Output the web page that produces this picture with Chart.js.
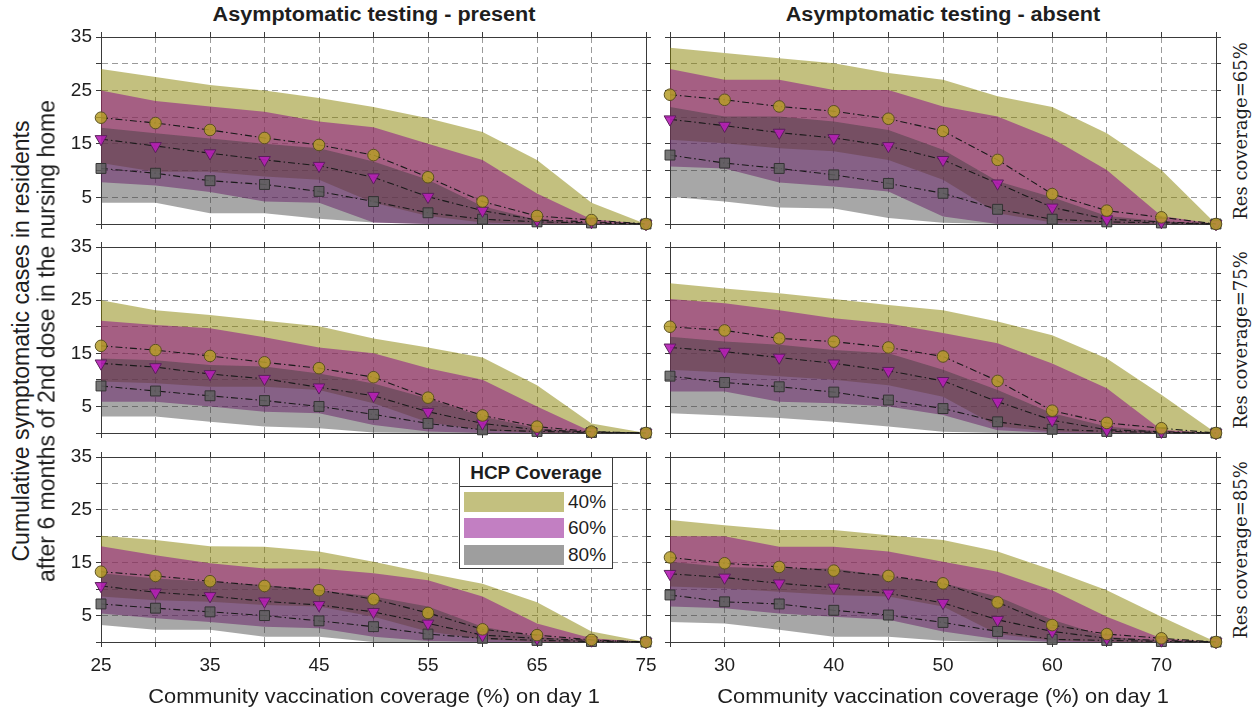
<!DOCTYPE html>
<html>
<head>
<meta charset="utf-8">
<script src="https://cdn.jsdelivr.net/npm/chart.js@4.4.1/dist/chart.umd.min.js"></script>
<style>
  body { margin: 0; background: #fff; }
  #wrap { position: relative; width: 1255px; height: 708px; overflow: hidden; background: #fff;
          font-family: "Liberation Sans", Arial, Helvetica, sans-serif; color: #1e1e1e; }
  #wrap canvas { position: absolute; }
  .txt { position: absolute; white-space: nowrap; line-height: 1; }
  #legend { position: absolute; left: 459px; top: 457px; width: 152px; height: 110px;
            border: 1px solid #3a3a3a; background: #fff; z-index: 5; }
  #legend .ttl { position: absolute; left: 0; top: 0; width: 152px; height: 28px; border-bottom: 1px solid #3a3a3a;
                 font-weight: bold; font-size: 19px; text-align: center; line-height: 30px; }
  #legend .patch { position: absolute; left: 4px; width: 100px; height: 20px; }
  #legend .lab { position: absolute; left: 108px; font-size: 19px; line-height: 20px; }
</style>
</head>
<body>
<div id="wrap"></div>
<script>
// ---------------- data ----------------
const xValues = [25, 30, 35, 40, 45, 50, 55, 60, 65, 70, 75];
const xTickLabelsLeft = [25, 35, 45, 55, 65, 75];
const xTickLabelsRight = [30, 40, 50, 60, 70];
const yTickLabels = [5, 15, 25, 35];
const hcpLevels = ['40%', '60%', '80%'];
const columnTitles = ['Asymptomatic testing - present', 'Asymptomatic testing - absent'];
const rowLabels = ['Res coverage=65%', 'Res coverage=75%', 'Res coverage=85%'];
const legendTitle = 'HCP Coverage';
const xAxisTitle = 'Community vaccination coverage (%) on day 1';
const yAxisTitle1 = 'Cumulative symptomatic cases in residents';
const yAxisTitle2 = 'after 6 months of 2nd dose in the nursing home';

// Res coverage 65%, testing present
const present65_hcp40_high = [29, 27.5, 26, 25, 23.6, 21.9, 19.8, 17.2, 12, 4, 0];
const present65_hcp40_low  = [11.4, 9.8, 9.8, 8.9, 8.3, 4, 1.5, 0.3, 0, 0, 0];
const present65_hcp40_med  = [19.9, 18.9, 17.6, 16.1, 14.8, 12.9, 8.75, 4.2, 1.5, 0.75, 0];
const present65_hcp60_high = [25, 23, 22, 21, 19.2, 18.1, 15, 12, 5.7, 0.9, 0];
const present65_hcp60_low  = [7.8, 7.2, 6, 4.2, 4, 0.3, 0, 0, 0, 0, 0];
const present65_hcp60_med  = [15.9, 14.6, 13.25, 12, 10.9, 8.75, 5.1, 2.5, 0.75, 0.4, 0];
const present65_hcp80_high = [18, 17, 16, 15, 14.2, 11.7, 8.3, 3.3, 0.8, 0.2, 0];
const present65_hcp80_low  = [4, 4, 2, 2, 1, 0.3, 0, 0, 0, 0, 0];
const present65_hcp80_med  = [10.4, 9.5, 8.1, 7.4, 6.1, 4.2, 2.1, 0.9, 0.4, 0.2, 0];

// Res coverage 65%, testing absent
const absent65_hcp40_high = [33, 32, 31, 30.1, 28.25, 27, 23.9, 21.9, 17, 10.1, 0];
const absent65_hcp40_low  = [15.75, 15.1, 14.2, 13.6, 12, 8.3, 2, 0.3, 0, 0, 0];
const absent65_hcp40_med  = [24.2, 23.25, 22, 21.1, 19.7, 17.4, 12, 5.6, 2.5, 1.25, 0];
const absent65_hcp60_high = [29, 27, 27, 25.1, 25.1, 22, 20.1, 16, 10.1, 1.5, 0];
const absent65_hcp60_low  = [10.75, 10.4, 7.75, 7, 6.1, 1.4, 0, 0, 0, 0, 0];
const absent65_hcp60_med  = [19.6, 18.4, 17.1, 16.1, 14.6, 12, 7.6, 3.1, 0.9, 0.4, 0];
const absent65_hcp80_high = [21.9, 20.1, 20.1, 19.2, 17.6, 13.9, 8, 5, 1.5, 0.5, 0];
const absent65_hcp80_low  = [5.1, 4.2, 3.1, 2.9, 1.1, 0.25, 0, 0, 0, 0, 0];
const absent65_hcp80_med  = [12.9, 11.4, 10.4, 9.2, 7.6, 5.75, 2.75, 0.9, 0.4, 0.2, 0];

// Res coverage 75%, testing present
const present75_hcp40_high = [25, 23.1, 22.2, 21.1, 20.1, 17.8, 16.1, 14.2, 9, 1.8, 0];
const present75_hcp40_low  = [9.7, 9.35, 8.7, 8.7, 8.1, 5.6, 2, 0.5, 0, 0, 0];
const present75_hcp40_med  = [16.4, 15.6, 14.5, 13.3, 12.2, 10.5, 6.65, 3.3, 1.2, 0.25, 0];
const present75_hcp60_high = [21.1, 20.3, 19.7, 18, 16.1, 15, 12.2, 10, 5, 0.25, 0];
const present75_hcp60_low  = [5.9, 5.9, 5, 4, 3.7, 1.5, 0.3, 0, 0, 0, 0];
const present75_hcp60_med  = [13.1, 12.4, 11.1, 10.2, 8.6, 7, 4, 1.8, 0.6, 0.2, 0];
const present75_hcp80_high = [14, 13.7, 12.8, 12.5, 11.2, 9.3, 6.5, 3.1, 0.9, 0.2, 0];
const present75_hcp80_low  = [3.1, 3.1, 2.1, 1.2, 0.9, 0.1, 0, 0, 0, 0, 0];
const present75_hcp80_med  = [8.85, 7.9, 7, 6.1, 5, 3.5, 1.8, 0.6, 0.3, 0.1, 0];

// Res coverage 75%, testing absent
const absent75_hcp40_high = [28.2, 27.2, 26.3, 25.2, 24.1, 23.1, 21, 18.4, 14, 7.2, 0];
const absent75_hcp40_low  = [11.9, 11.4, 10.7, 10, 9, 6.8, 1.2, 0.3, 0, 0, 0];
const absent75_hcp40_med  = [20, 19.3, 17.8, 17.2, 16.1, 14.4, 9.8, 4.2, 1.9, 0.9, 0];
const absent75_hcp60_high = [25.2, 24.4, 23.1, 21.6, 20.6, 18.8, 16.9, 13.1, 8.4, 0.6, 0];
const absent75_hcp60_low  = [7.8, 7.8, 5.9, 5.6, 5, 3.4, 0.5, 0, 0, 0, 0];
const absent75_hcp60_med  = [16.1, 15.3, 14.2, 13.1, 11.7, 9.8, 5.9, 2.4, 0.6, 0.25, 0];
const absent75_hcp80_high = [18.1, 17.2, 16.6, 15.6, 15, 11.9, 8.1, 3.7, 1.2, 0.3, 0];
const absent75_hcp80_low  = [3.7, 3.3, 2.8, 2.1, 1.2, 0.25, 0, 0, 0, 0, 0];
const absent75_hcp80_med  = [10.7, 9.5, 8.7, 7.7, 6.2, 4.6, 2.1, 0.7, 0.3, 0.1, 0];

// Res coverage 85%, testing present
const present85_hcp40_high = [20.1, 19.3, 18.1, 18, 17.1, 15.2, 13, 11, 7.5, 2, 0];
const present85_hcp40_low  = [8.6, 7.9, 7.6, 7, 6.7, 4.8, 2, 0.5, 0, 0, 0];
const present85_hcp40_med  = [13.3, 12.5, 11.5, 10.6, 9.8, 8.1, 5.5, 2.4, 1.3, 0.4, 0];
const present85_hcp60_high = [18.1, 16.4, 14.9, 13.9, 13.9, 13, 11.7, 8.6, 3.5, 0.7, 0];
const present85_hcp60_low  = [5.4, 4.5, 3.8, 2.9, 2.6, 1, 0.2, 0, 0, 0, 0];
const present85_hcp60_med  = [10.6, 9.4, 8.7, 7.7, 7, 5.7, 3.5, 1.3, 0.7, 0.3, 0];
const present85_hcp80_high = [13, 12, 11.4, 10.8, 9.8, 8.6, 6.7, 2.9, 1, 0.3, 0];
const present85_hcp80_low  = [3.2, 2.3, 2.3, 1, 1, 0, 0, 0, 0, 0, 0];
const present85_hcp80_med  = [7.2, 6.4, 5.7, 5, 4, 2.9, 1.5, 0.7, 0.3, 0.1, 0];

// Res coverage 85%, testing absent
const absent85_hcp40_high = [23.1, 22.1, 21.2, 21.2, 20.2, 19.3, 17.1, 13.6, 9.8, 4.8, 0];
const absent85_hcp40_low  = [10.5, 10.1, 9.5, 8.9, 8.6, 6.7, 1.5, 0.3, 0, 0, 0];
const absent85_hcp40_med  = [16, 14.9, 14.2, 13.5, 12.5, 11.1, 7.5, 3.2, 1.5, 0.7, 0];
const absent85_hcp60_high = [20, 20, 18, 18, 17.1, 15.2, 13.3, 9.8, 4.8, 0.7, 0];
const absent85_hcp60_low  = [6.7, 6.4, 5.4, 4.8, 4.2, 2, 0.5, 0, 0, 0, 0];
const absent85_hcp60_med  = [12.9, 12.2, 11.1, 10.3, 9.2, 7.4, 4.2, 2, 0.7, 0.3, 0];
const absent85_hcp80_high = [15.2, 14.2, 13.9, 13.9, 12.4, 11.1, 8.6, 4.2, 1, 0.3, 0];
const absent85_hcp80_low  = [3.8, 3.5, 2.3, 1, 1, 0.25, 0, 0, 0, 0, 0];
const absent85_hcp80_med  = [8.9, 7.6, 7.2, 6, 5.1, 3.7, 2, 0.5, 0.3, 0.1, 0];

// ---------------- styling ----------------
const bandColors   = ['rgba(135,130,0,0.5)', 'rgba(135,0,135,0.5)', 'rgba(60,60,60,0.45)'];
const legendColors = ['rgb(195,192,127)', 'rgb(194,127,194)', 'rgb(158,158,158)'];
const markerStyles = [
  { style: 'circle',   r: 5.8, rot: 0,   fill: 'rgba(182,158,40,0.85)', edge: '#5a5020' },
  { style: 'triangle', r: 6.8, rot: 180, fill: 'rgba(182,30,182,0.9)',  edge: '#5a205a' },
  { style: 'rect',     r: 7,   rot: 0,   fill: 'rgba(95,95,95,0.85)',   edge: '#333333' }
];

const panels = [
  { row: 0, col: 0, bands: [[present65_hcp40_low, present65_hcp40_high, present65_hcp40_med], [present65_hcp60_low, present65_hcp60_high, present65_hcp60_med], [present65_hcp80_low, present65_hcp80_high, present65_hcp80_med]] },
  { row: 0, col: 1, bands: [[absent65_hcp40_low, absent65_hcp40_high, absent65_hcp40_med], [absent65_hcp60_low, absent65_hcp60_high, absent65_hcp60_med], [absent65_hcp80_low, absent65_hcp80_high, absent65_hcp80_med]] },
  { row: 1, col: 0, bands: [[present75_hcp40_low, present75_hcp40_high, present75_hcp40_med], [present75_hcp60_low, present75_hcp60_high, present75_hcp60_med], [present75_hcp80_low, present75_hcp80_high, present75_hcp80_med]] },
  { row: 1, col: 1, bands: [[absent75_hcp40_low, absent75_hcp40_high, absent75_hcp40_med], [absent75_hcp60_low, absent75_hcp60_high, absent75_hcp60_med], [absent75_hcp80_low, absent75_hcp80_high, absent75_hcp80_med]] },
  { row: 2, col: 0, bands: [[present85_hcp40_low, present85_hcp40_high, present85_hcp40_med], [present85_hcp60_low, present85_hcp60_high, present85_hcp60_med], [present85_hcp80_low, present85_hcp80_high, present85_hcp80_med]] },
  { row: 2, col: 1, bands: [[absent85_hcp40_low, absent85_hcp40_high, absent85_hcp40_med], [absent85_hcp60_low, absent85_hcp60_high, absent85_hcp60_med], [absent85_hcp80_low, absent85_hcp80_high, absent85_hcp80_med]] }
];

// layout of plot areas (pixels)
const colLeft = [101, 670], colWidth = [545, 546];
const rowTop = [37, 247, 457], rowHeight = [187, 186, 185];

const wrap = document.getElementById('wrap');
const FONT = '"Liberation Sans", Arial, Helvetica, sans-serif';
const toPoints = arr => xValues.map((x, i) => ({ x: x, y: arr[i] }));

function addText(text, cx, cy, css, rotate) {
  const d = document.createElement('div');
  d.className = 'txt';
  d.textContent = text;
  Object.assign(d.style, css);
  d.style.left = cx + 'px';
  d.style.top = cy + 'px';
  d.style.transform = 'translate(-50%,-50%)' + (rotate ? ' rotate(-90deg)' : '') + (css.sx ? ' scaleX(' + css.sx + ')' : '');
  wrap.appendChild(d);
  return d;
}

panels.forEach(p => {
  const isLeft = p.col === 0, isBottom = p.row === 2;
  const ml = isLeft ? 50 : 10, mr = isLeft ? 14 : 10, mt = 8, mb = isBottom ? 45 : 10;
  const W = colWidth[p.col] + ml + mr, H = rowHeight[p.row] + mt + mb;
  const cv = document.createElement('canvas');
  cv.width = W; cv.height = H;
  cv.style.width = W + 'px'; cv.style.height = H + 'px';
  cv.style.left = (colLeft[p.col] - ml) + 'px';
  cv.style.top = (rowTop[p.row] - mt) + 'px';
  wrap.appendChild(cv);

  const datasets = [];
  p.bands.forEach((b, k) => {
    datasets.push({ data: toPoints(b[0]), borderWidth: 0, borderColor: 'rgba(0,0,0,0)', pointRadius: 0, fill: false, order: 3 - k });
    datasets.push({ data: toPoints(b[1]), borderWidth: 0, borderColor: 'rgba(0,0,0,0)', pointRadius: 0, fill: '-1', backgroundColor: bandColors[k], order: 3 - k });
  });
  p.bands.forEach((b, k) => {
    const m = markerStyles[k];
    datasets.push({
      data: toPoints(b[2]), borderColor: '#1a1a1a', borderWidth: 1.1, borderDash: [7, 3, 1.5, 3],
      pointStyle: m.style, pointRadius: m.r, pointRotation: m.rot,
      pointBackgroundColor: m.fill, pointBorderColor: m.edge, pointBorderWidth: 1,
      fill: false, order: 0, clip: false
    });
  });

  const xLabels = isLeft ? xTickLabelsLeft : xTickLabelsRight;
  const gridCol = 'rgba(120,120,120,0.75)';
  const axisCol = '#3a3a3a';
  const tickFont = { family: FONT, size: 19 };

  new Chart(cv, {
    type: 'line',
    data: { datasets: datasets },
    options: {
      responsive: false, animation: false, devicePixelRatio: 1,
      layout: { padding: 0 },
      elements: { line: { tension: 0 } },
      plugins: { legend: { display: false }, tooltip: { enabled: false }, filler: { propagate: false } },
      scales: {
        x: {
          type: 'linear', position: 'bottom', min: 25, max: 75,
          ticks: { stepSize: 5, display: isBottom, autoSkip: false, maxRotation: 0, padding: 7, color: '#1e1e1e', font: tickFont,
                   callback: v => xLabels.includes(v) ? String(v) : '' },
          grid: { color: gridCol, lineWidth: 1, drawTicks: true, tickLength: 5, tickColor: axisCol, tickWidth: 1 },
          border: { display: true, color: axisCol, width: 1, dash: [6, 4] },
          afterFit: s => { s.height = mb; s.paddingLeft = 0; s.paddingRight = 0; }
        },
        x2: {
          type: 'linear', position: 'top', min: 25, max: 75,
          ticks: { stepSize: 5, display: false, autoSkip: false },
          grid: { drawOnChartArea: false, drawTicks: true, tickLength: 5, tickColor: axisCol },
          border: { display: true, color: axisCol, width: 1 },
          afterFit: s => { s.height = mt; s.paddingLeft = 0; s.paddingRight = 0; }
        },
        y: {
          type: 'linear', position: 'left', min: 0, max: 35,
          ticks: { stepSize: 5, display: isLeft, autoSkip: false, padding: 4, color: '#1e1e1e', font: tickFont,
                   callback: v => yTickLabels.includes(v) ? String(v) : '' },
          grid: { color: gridCol, lineWidth: 1, drawTicks: true, tickLength: 5, tickColor: axisCol },
          border: { display: true, color: axisCol, width: 1, dash: [6, 4] },
          afterFit: s => { s.width = ml; s.paddingTop = 0; s.paddingBottom = 0; }
        },
        y2: {
          type: 'linear', position: 'right', min: 0, max: 35,
          ticks: { stepSize: 5, display: false, autoSkip: false },
          grid: { drawOnChartArea: false, drawTicks: true, tickLength: 5, tickColor: axisCol },
          border: { display: true, color: axisCol, width: 1 },
          afterFit: s => { s.width = mr; s.paddingTop = 0; s.paddingBottom = 0; }
        }
      }
    }
  });
});

// column titles
columnTitles.forEach((t, c) => addText(t, colLeft[c] + colWidth[c] / 2, 14, { fontSize: '20px', fontWeight: 'bold', sx: 1.08 }));
// x axis titles
[0, 1].forEach(c => addText(xAxisTitle, colLeft[c] + colWidth[c] / 2, 695, { fontSize: '21px', sx: 1.04 }));
// y axis title (two lines)
addText(yAxisTitle1, 21, 341, { fontSize: '23px' }, true);
addText(yAxisTitle2, 47, 341, { fontSize: '23px' }, true);
// row labels
rowLabels.forEach((t, r) => addText(t, 1241, rowTop[r] + rowHeight[r] / 2, { fontSize: '18px', fontFamily: '"DejaVu Serif", "Liberation Serif", serif' }, true));

// legend
const lg = document.createElement('div');
lg.id = 'legend';
const lt = document.createElement('div');
lt.className = 'ttl'; lt.textContent = legendTitle;
lg.appendChild(lt);
hcpLevels.forEach((lab, k) => {
  const top = 34 + k * 26.3;
  const pt = document.createElement('div');
  pt.className = 'patch'; pt.style.top = top + 'px'; pt.style.background = legendColors[k];
  lg.appendChild(pt);
  const tx = document.createElement('div');
  tx.className = 'lab'; tx.style.top = top + 'px'; tx.textContent = lab;
  lg.appendChild(tx);
});
wrap.appendChild(lg);
</script>
</body>
</html>
